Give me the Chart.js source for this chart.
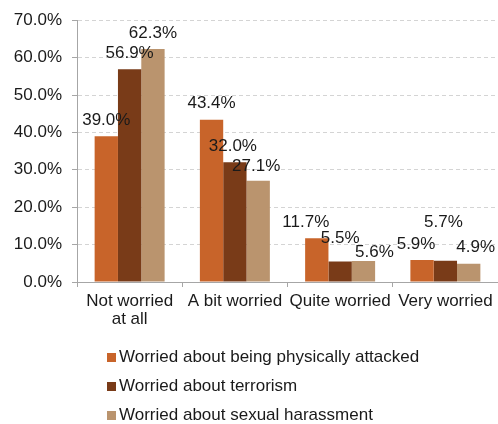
<!DOCTYPE html>
<html>
<head>
<meta charset="utf-8">
<script src="https://cdn.jsdelivr.net/npm/chart.js@4"></script>
<style>
html, body { margin: 0; padding: 0; background: #fff; }
#wrap { width: 498px; height: 424px; position: relative; }
</style>
</head>
<body>
<div id="wrap"><canvas id="chart"></canvas></div>
<script>
// 数据
const categories = [['Not worried', 'at all'], 'A bit worried', 'Quite worried', 'Very worried'];
const seriesNames = [
    'Worried about being physically attacked',
    'Worried about terrorism',
    'Worried about sexual harassment'
];
const attacked = [39.0, 43.4, 11.7, 5.9];
const terrorism = [56.9, 32.0, 5.5, 5.7];
const harassment = [62.3, 27.1, 5.6, 4.9];
const yTicks = [0, 10, 20, 30, 40, 50, 60, 70];

// 配色
const colors = ['#C8642A', '#793B18', '#BA946E'];
const fontFamily = "'Liberation Sans', Arial, sans-serif";
const fontSize = 17;
const textColor = '#1A1A1A';
const axisColor = '#A6A6A6';

// 标签微调 [dx, dy]
const labelNudge = [
    [[0, 0], [0, 0], [-11, 0], [-6, 0]],
    [[0, 0], [-2, 0], [0, -7], [-2, -22]],
    [[0, 0], [-2, 2], [11, 7], [7, 0]]
];

// 数值标签
const valueLabels = {
    id: 'valueLabels',
    afterDatasetsDraw(chart) {
        const ctx = chart.ctx;
        ctx.save();
        ctx.font = fontSize + 'px ' + fontFamily;
        ctx.fillStyle = textColor;
        ctx.textAlign = 'center';
        ctx.textBaseline = 'middle';
        chart.data.datasets.forEach((ds, i) => {
            chart.getDatasetMeta(i).data.forEach((bar, j) => {
                const n = labelNudge[i][j];
                ctx.fillText(ds.data[j].toFixed(1) + '%', bar.x + n[0], bar.y - 16 + n[1]);
            });
        });
        ctx.restore();
    }
};

// 图例（竖排，左对齐）
const sideLegend = {
    id: 'sideLegend',
    afterDraw(chart) {
        const ctx = chart.ctx;
        ctx.save();
        ctx.font = fontSize + 'px ' + fontFamily;
        ctx.textBaseline = 'middle';
        ctx.textAlign = 'left';
        chart.data.datasets.forEach((ds, i) => {
            const y = 357 + i * 29;
            ctx.fillStyle = ds.backgroundColor;
            ctx.fillRect(107, y - 4, 9, 9);
            ctx.fillStyle = textColor;
            ctx.fillText(ds.label, 119, y);
        });
        ctx.restore();
    }
};

const datasets = [attacked, terrorism, harassment].map((vals, i) => ({
    label: seriesNames[i],
    data: vals,
    backgroundColor: colors[i],
    borderWidth: 0,
    categoryPercentage: 0.665,
    barPercentage: 1.0
}));

new Chart(document.getElementById('chart'), {
    type: 'bar',
    data: { labels: categories, datasets },
    options: {
        responsive: true,
        maintainAspectRatio: false,
        animation: false,
        layout: { padding: { top: 20, right: 0, bottom: 88, left: 0 } },
        plugins: {
            legend: { display: false },
            tooltip: { enabled: false }
        },
        scales: {
            y: {
                min: 0,
                max: 70,
                afterBuildTicks: axis => { axis.ticks = yTicks.map(v => ({ value: v })); },
                afterFit: axis => { axis.width = 77; },
                ticks: {
                    callback: v => v.toFixed(1) + '%',
                    font: { family: fontFamily, size: fontSize },
                    color: textColor,
                    padding: 10
                },
                grid: { color: '#D4D4D4', drawTicks: true, tickLength: 5, tickColor: axisColor },
                border: { color: axisColor, dash: [4, 3] }
            },
            x: {
                afterFit: axis => { axis.height = 54; },
                ticks: {
                    font: { family: fontFamily, size: fontSize, lineHeight: 1.08 },
                    color: textColor,
                    padding: 5,
                    maxRotation: 0,
                    autoSkip: false
                },
                grid: { drawOnChartArea: false, drawTicks: true, tickLength: 5, color: axisColor },
                border: { color: axisColor }
            }
        }
    },
    plugins: [valueLabels, sideLegend]
});
</script>
</body>
</html>
